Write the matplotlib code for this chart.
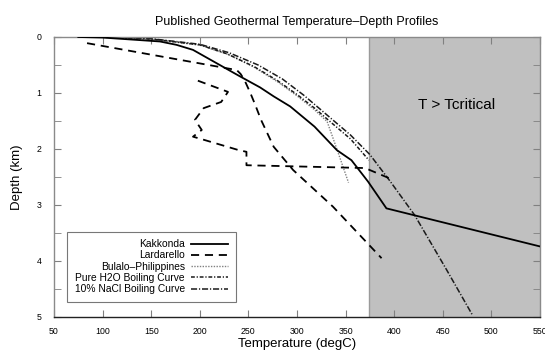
import numpy as np
import matplotlib
matplotlib.use("Agg")
import matplotlib.pyplot as plt

plt.rcParams['font.family'] = ['Liberation Sans', 'DejaVu Sans']

# ---- data (temperature degC, depth km) ----
kak_T = [75, 100, 159, 176, 193, 241, 262, 276, 293, 318, 341, 356, 373, 392, 550]
kak_d = [0, 0.01, 0.08, 0.14, 0.23, 0.70, 0.90, 1.06, 1.24, 1.60, 2.02, 2.20, 2.58, 3.06, 3.74]

lar_T = [84, 238, 242, 246, 252, 257, 263, 276, 296, 337, 387,
         np.nan,
         198, 229, 222, 204, 195, 202, 193, 205, 240, 248, 248, 370, 396]
lar_d = [0.11, 0.59, 0.66, 0.77, 1.00, 1.21, 1.48, 1.96, 2.375, 3.03, 3.95,
         np.nan,
         0.78, 0.98, 1.16, 1.27, 1.48, 1.66, 1.78, 1.84, 2.02, 2.05, 2.29, 2.34, 2.53]

bul_T = [92, 150, 200, 229, 255, 280, 300, 318, 331, 341, 353]
bul_d = [0, 0.04, 0.145, 0.31, 0.53, 0.80, 1.05, 1.30, 1.51, 2.00, 2.60]

h2o_T = [100, 150, 200, 228, 256, 280, 301, 318, 334, 355, 374]
h2o_d = [0, 0.035, 0.14, 0.30, 0.53, 0.78, 1.04, 1.27, 1.51, 1.82, 2.20]

nacl_T = [100, 150, 200, 230, 260, 285, 307, 330, 355, 375, 396, 421, 454, 480]
nacl_d = [0, 0.03, 0.13, 0.28, 0.50, 0.75, 1.04, 1.38, 1.75, 2.10, 2.58, 3.18, 4.16, 4.95]

t_critical = 374
x_ticks = list(range(50, 551, 50))
y_ticks = [0, 1, 2, 3, 4, 5]

fig = plt.figure(figsize=(5.45, 3.52), dpi=100)
ax = fig.add_axes([54/545, 1-317/352, (540-54)/545, (317-37)/352])

ax.axvspan(t_critical, 550, facecolor='#c0c0c0', edgecolor='none', zorder=0)
ax.axvline(t_critical, color='#9a9a9a', lw=1.0, zorder=0.5)

ax.plot(kak_T, kak_d, color='black', lw=1.3, label='Kakkonda', zorder=3)
ax.plot(lar_T, lar_d, color='black', lw=1.3, dashes=(4.5, 3.2), label='Lardarello', zorder=3)
ax.plot(bul_T, bul_d, color='#808080', lw=1.0, dashes=(1, 1), label='Bulalo\u2013Philippines', zorder=2)
ax.plot(h2o_T, h2o_d, color='#1a1a1a', lw=1.1, dashes=(2.5, 1.2, 0.8, 1.2), label='Pure H2O Boiling Curve', zorder=2)
ax.plot(nacl_T, nacl_d, color='#1a1a1a', lw=1.1, dashes=(4, 1.2, 0.8, 1.2), label='10% NaCl Boiling Curve', zorder=2)

ax.set_xlim(50, 550)
ax.set_ylim(5, 0)
ax.set_xticks(x_ticks)
ax.set_yticks(y_ticks)
ax.set_yticks(np.arange(0, 5.01, 0.5), minor=True)
ax.tick_params(axis='both', which='both', direction='in', top=True, right=True,
               labelsize=6.3, color='#808080')
ax.tick_params(axis='both', which='major', length=5)
ax.tick_params(axis='y', which='minor', length=5)
ax.tick_params(axis='x', pad=7)
ax.tick_params(axis='y', pad=9)
for s in ['top', 'left', 'right']:
    ax.spines[s].set_color('#8a8a8a')
ax.spines['bottom'].set_color('#222222')
for sp in ax.spines.values():
    sp.set_linewidth(1.0)

ax.set_xlabel('Temperature (degC)', fontsize=9.5, labelpad=2)
ax.set_ylabel('Depth (km)', fontsize=9.5, labelpad=10)
ax.set_title('Published Geothermal Temperature\u2013Depth Profiles', fontsize=9, pad=9)

ax.text(464, 1.22, 'T > Tcritical', fontsize=11, ha='center', va='center')

leg = ax.legend(loc='lower left', bbox_to_anchor=(0.027, 0.054), markerfirst=False,
                fontsize=7.4, frameon=True, fancybox=False, edgecolor='#555555',
                handlelength=3.6, labelspacing=0.12, borderpad=0.75,
                handletextpad=0.6, borderaxespad=0)
leg.get_frame().set_linewidth(0.8)
for t in leg.get_texts():
    t.set_ha('right')
leg._legend_box.align = 'right'

fig.savefig('out.png', dpi=100)
